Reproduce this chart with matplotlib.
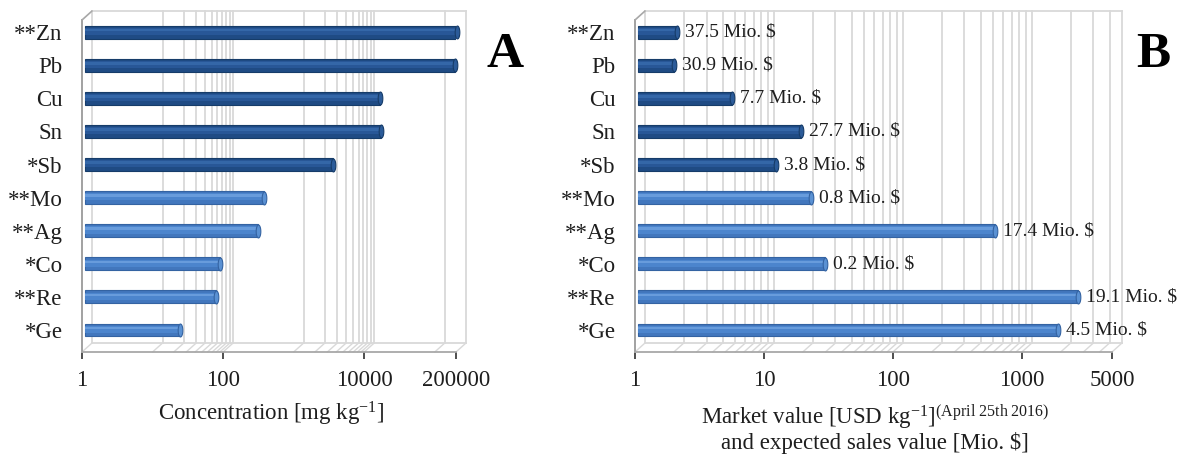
import numpy as np
import matplotlib
matplotlib.use("Agg")
import matplotlib.pyplot as plt
from matplotlib.transforms import offset_copy
from matplotlib.path import Path

plt.rcParams['font.family'] = ['Liberation Serif', 'DejaVu Serif']
plt.rcParams['mathtext.fontset'] = 'custom'
plt.rcParams['mathtext.rm'] = 'Liberation Serif'
plt.rcParams['mathtext.it'] = 'Liberation Serif:italic'
plt.rcParams['mathtext.bf'] = 'Liberation Serif:bold'

# ---------------- data ----------------
elements = ['**Zn', 'Pb', 'Cu', 'Sn', '*Sb', '**Mo', '**Ag', '*Co', '**Re', '*Ge']
concentration = [190000, 175000, 15000, 15500, 3300, 340, 285, 83, 73, 22]   # mg/kg
market_value = [2.0, 1.9, 5.4, 18.5, 11.8, 22, 585, 28, 2580, 1820]          # USD/kg
sales_labels = ['37.5 Mio. $', '30.9 Mio. $', '7.7 Mio. $', '27.7 Mio. $', '3.8 Mio. $',
                '0.8 Mio. $', '17.4 Mio. $', '0.2 Mio. $', '19.1 Mio. $', '4.5 Mio. $']
group = ['dark'] * 5 + ['light'] * 5

a_ticks = [1, 100, 10000, 200000]
a_ticklabels = ['1', '100', '10000', '200000']
a_grid = [1] + list(range(10, 101, 10)) + list(range(1000, 10001, 1000)) + [100000, 200000]
b_ticks = [1, 10, 100, 1000, 5000]
b_ticklabels = ['1', '10', '100', '1000', '5000']
b_grid = (list(range(1, 10)) + list(range(10, 100, 10)) + list(range(100, 1000, 100))
          + list(range(1000, 5001, 1000)))

W, H = 1182, 459
fig = plt.figure(figsize=(W / 100, H / 100), dpi=100)

colors = {
    'dark': dict(edge='#163c69', base='#1f4b84', mid='#285797', hi='#3467a8', cap='#2b5b99'),
    'light': dict(edge='#3463a2', base='#4277bd', mid='#4c85cd', hi='#689cdc', cap='#5a91d3'),
}

theta = np.linspace(0, 2 * np.pi, 60)
ell = Path(np.column_stack([0.36 * np.cos(theta), np.sin(theta)]), closed=True)

DX, DY = 10, 9  # 3D depth offset in pixels
y_lo, y_hi = -0.665, 9.366
BAR_H = 0.39
FS = 16.5
TXT = '#1e1e1e'


def panel(rect, xmax, values, ticks, ticklabels, grid):
    ax = fig.add_axes(rect)
    ax.set_xscale('log')
    ax.set_xlim(1, xmax)
    ax.set_ylim(y_lo, y_hi)
    for s in ax.spines.values():
        s.set_visible(False)
    ax.patch.set_visible(False)
    back = offset_copy(ax.transData, fig=fig, x=DX, y=DY, units='dots')
    barT = offset_copy(ax.transData, fig=fig, x=3, y=0, units='dots')
    gcol = '#d9d9d9'
    # back wall gridlines and floor diagonals
    for g in grid:
        ax.plot([g, g], [y_lo, y_hi], color=gcol, lw=1.3, transform=back, clip_on=False, zorder=1)
        ax.annotate('', xy=(g, y_lo), xycoords=back, xytext=(g, y_lo), textcoords='data',
                    arrowprops=dict(arrowstyle='-', color=gcol, lw=1.0, shrinkA=0, shrinkB=0),
                    annotation_clip=False, zorder=1)
    # back wall top and bottom
    ax.plot([1, xmax], [y_hi, y_hi], color=gcol, lw=1.3, transform=back, clip_on=False, zorder=1)
    ax.plot([1, xmax], [y_lo, y_lo], color=gcol, lw=1.3, transform=back, clip_on=False, zorder=1)
    # left wall
    ax.annotate('', xy=(1, y_hi), xycoords=back, xytext=(1, y_hi), textcoords='data',
                arrowprops=dict(arrowstyle='-', color='#a8a8a8', lw=1.2, shrinkA=0, shrinkB=0),
                annotation_clip=False)
    ax.plot([1, 1], [y_lo, y_hi], color='#9a9a9a', lw=1.3, clip_on=False, zorder=2)
    # front floor line
    ax.plot([1, xmax], [y_lo, y_lo], color='#a8a8a8', lw=1.3, clip_on=False, zorder=2)

    # bars (cylinder look)
    ys = [len(values) - 1 - i for i in range(len(values))]
    for y, v, grp in zip(ys, values, group):
        c = colors[grp]
        ax.barh(y, v - 1, left=1, height=BAR_H, color=c['base'], edgecolor=c['edge'], lw=0.8,
                transform=barT, zorder=3)
        ax.barh(y + 0.02, v - 1, left=1, height=BAR_H * 0.55, color=c['mid'], lw=0,
                transform=barT, zorder=3)
        ax.barh(y + 0.06, v - 1, left=1, height=BAR_H * 0.2, color=c['hi'], lw=0,
                transform=barT, zorder=3)
        ax.plot([v], [y], marker=ell, ms=BAR_H * 33.1 * 0.72, mfc=c['cap'], mec=c['edge'],
                mew=0.8, transform=barT, zorder=4, clip_on=False)

    ax.set_yticks(ys)
    ax.set_yticklabels(elements, fontsize=FS, color=TXT)
    ax.tick_params(axis='y', length=0, pad=14)
    ax.set_xticks(ticks)
    ax.set_xticklabels(ticklabels, fontsize=FS, color=TXT)
    ax.xaxis.set_minor_locator(matplotlib.ticker.NullLocator())
    ax.tick_params(axis='x', length=5, width=1.3, color='#404040', direction='out', pad=8)
    return ax, ys, barT


# panel A
axA, ys, _ = panel([82 / W, (459 - 352) / H, (456 - 82) / W, (352 - 20) / H],
                   200000, concentration, a_ticks, a_ticklabels, a_grid)
fig.text(271 / W, 1 - 414 / H, 'Concentration [mg kg$^{\\mathrm{-1}}$]', ha='center', va='center',
         fontsize=FS, color=TXT)
fig.text(505 / W, 1 - 55 / H, 'A', ha='center', va='center', fontsize=37, fontweight='bold')

# panel B
axB, ys, barT = panel([635 / W, (459 - 352) / H, (1112 - 635) / W, (352 - 20) / H],
                      5000, market_value, b_ticks, b_ticklabels, b_grid)
for y, v, lab in zip(ys, market_value, sales_labels):
    axB.annotate(lab, xy=(v, y), xycoords=barT, xytext=(8, 0), textcoords='offset pixels',
                 ha='left', va='center', fontsize=14, color=TXT, annotation_clip=False)
fig.text(875 / W, 1 - 417 / H,
         'Market value [USD kg$^{\\mathrm{-1}}$]$^{\\mathrm{(April\\ 25th\\ 2016)}}$',
         ha='center', va='center', fontsize=FS, color=TXT)
fig.text(875 / W, 1 - 443 / H, 'and expected sales value [Mio. $]', ha='center', va='center',
         fontsize=FS, color=TXT)
fig.text(1153 / W, 1 - 55 / H, 'B', ha='center', va='center', fontsize=37, fontweight='bold')

fig.savefig('out.png', dpi=100)
